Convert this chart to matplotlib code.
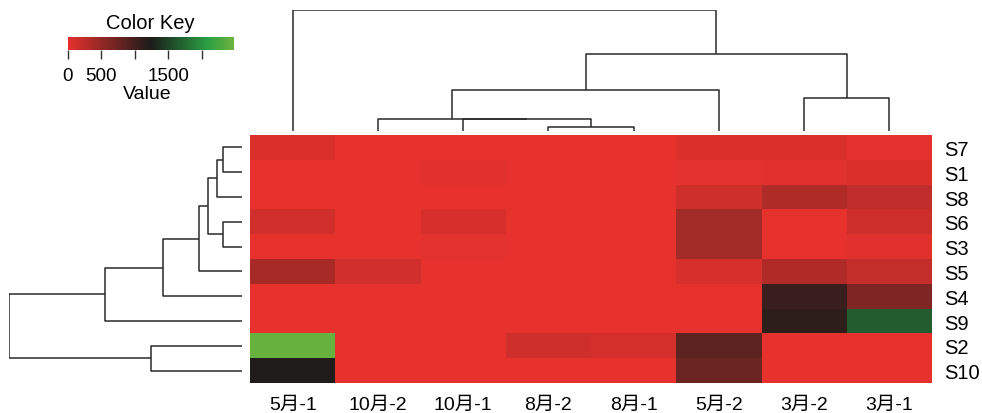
import matplotlib
matplotlib.use("Agg")
import matplotlib.pyplot as plt
import numpy as np
from matplotlib.colors import LinearSegmentedColormap

plt.rcParams['font.family'] = ['Liberation Sans', 'Noto Sans CJK SC', 'DejaVu Sans']

# ---- data ----
col_labels = ["5月-1", "10月-2", "10月-1", "8月-2", "8月-1", "5月-2", "3月-2", "3月-1"]
row_labels = ["S7", "S1", "S8", "S6", "S3", "S5", "S4", "S9", "S2", "S10"]

row_S7  = [80, 5, 5, 5, 5, 80, 80, 10]
row_S1  = [5, 5, 30, 5, 5, 20, 30, 80]
row_S8  = [5, 5, 5, 5, 5, 150, 340, 240]
row_S6  = [130, 5, 100, 5, 5, 416, 5, 170]
row_S3  = [5, 5, 25, 5, 5, 416, 5, 30]
row_S5  = [390, 140, 5, 5, 5, 100, 335, 220]
row_S4  = [5, 5, 5, 5, 5, 5, 1065, 630]
row_S9  = [5, 5, 5, 5, 5, 5, 1126, 1640]
row_S2  = [2420, 5, 5, 150, 110, 838, 5, 5]
row_S10 = [1210, 5, 5, 5, 5, 753, 5, 5]

values = np.array([row_S7, row_S1, row_S8, row_S6, row_S3,
                   row_S5, row_S4, row_S9, row_S2, row_S10], dtype=float)

vmin, vmax = 0, 2460
key_ticks = [0, 500, 1000, 1500, 2000]
key_ticklabels = ["0", "500", "", "1500", ""]

# dendrogram merges: (child_a, child_b, height); leaves 0..n-1, new clusters n, n+1, ...
col_merges = [(3, 4, 4.3), (2, 8, 12.0), (1, 9, 12.3), (10, 5, 41.0),
              (6, 7, 33.0), (11, 12, 77.0), (0, 13, 121.0)]
row_merges = [(0, 1, 18.7), (10, 2, 25.3), (3, 4, 18.7), (11, 12, 33.7),
              (13, 5, 43.3), (14, 6, 78.7), (15, 7, 137.0), (8, 9, 91.3),
              (16, 17, 232.7)]

# ---- figure ----
W, H = 982, 414
fig = plt.figure(figsize=(W / 100, H / 100), dpi=100)

def ax_px(x0, y0, x1, y1):
    return fig.add_axes([x0 / W, 1 - y1 / H, (x1 - x0) / W, (y1 - y0) / H])

cmap = LinearSegmentedColormap.from_list(
    "rkg", [(0.0, "#E6312D"), (0.5, "#1C1C1B"), (0.84, "#2A9E43"), (1.0, "#6EB43F")])

# heatmap
hx0, hy0, hx1, hy1 = 250, 136, 932, 384
axh = ax_px(hx0, hy0, hx1, hy1)
nr, nc = values.shape
axh.pcolormesh(np.arange(nc + 1), np.arange(nr + 1), values, cmap=cmap,
               vmin=vmin, vmax=vmax, shading="flat")
axh.set_xlim(0, nc)
axh.set_ylim(nr, 0)
for s in axh.spines.values():
    s.set_visible(False)
axh.set_xticks(np.arange(nc) + 0.5)
axh.set_xticklabels(col_labels, fontsize=14)
axh.yaxis.tick_right()
axh.set_yticks(np.arange(nr) + 0.5)
axh.set_yticklabels(row_labels, fontsize=14.5)
axh.tick_params(axis="both", length=0)
axh.tick_params(axis="x", pad=9)
axh.tick_params(axis="y", pad=9)


def draw_dendro(ax, merges, n, orient):
    pos = {i: i + 0.5 for i in range(n)}
    hgt = {i: 0.0 for i in range(n)}
    nid = n
    for a, b, h in merges:
        pa, pb = pos[a], pos[b]
        ha, hb = hgt[a], hgt[b]
        xs = [pa, pa, pb, pb]
        ys = [ha, h, h, hb]
        if orient == "top":
            ax.plot(xs, ys, color="#2a2a2a", lw=1.1, solid_capstyle="butt")
        else:
            ax.plot(ys, xs, color="#2a2a2a", lw=1.1, solid_capstyle="butt")
        pos[nid] = (pa + pb) / 2
        hgt[nid] = h
        nid += 1
    return max(h for _, _, h in merges)


# column dendrogram
axc = ax_px(hx0, 10.7, hx1, 132)
top = draw_dendro(axc, col_merges, nc, "top")
axc.set_xlim(0, nc)
axc.set_ylim(0, top)
axc.axis("off")

# row dendrogram
axr = ax_px(9.3, hy0, 242, hy1)
rtop = draw_dendro(axr, row_merges, nr, "left")
axr.set_xlim(rtop, 0)
axr.set_ylim(nr, 0)
axr.axis("off")

# color key
kx0, ky0, kx1, ky1 = 67.7, 38.3, 233, 50.7
axk = ax_px(kx0, ky0, kx1, ky1)
grad = np.linspace(vmin, vmax, 256)[None, :]
axk.imshow(grad, aspect="auto", cmap=cmap, vmin=vmin, vmax=vmax,
           extent=[vmin, vmax, 0, 1])
axk.set_xlim(vmin, vmax)
axk.set_yticks([])
axk.set_xticks(key_ticks)
axk.set_xticklabels(key_ticklabels, fontsize=13.5)
axk.tick_params(axis="x", length=6.5, width=1, color="#333333", pad=6)
for k, s in axk.spines.items():
    s.set_visible(False)
fig.text(((kx0 + kx1) / 2) / W, 1 - 28.7 / H, "Color Key", fontsize=14.5,
         ha="center", va="baseline")
fig.text(((kx0 + kx1) / 2 - 3) / W, 1 - 99 / H, "Value", fontsize=14,
         ha="center", va="baseline")

fig.savefig("out.png", dpi=100)
